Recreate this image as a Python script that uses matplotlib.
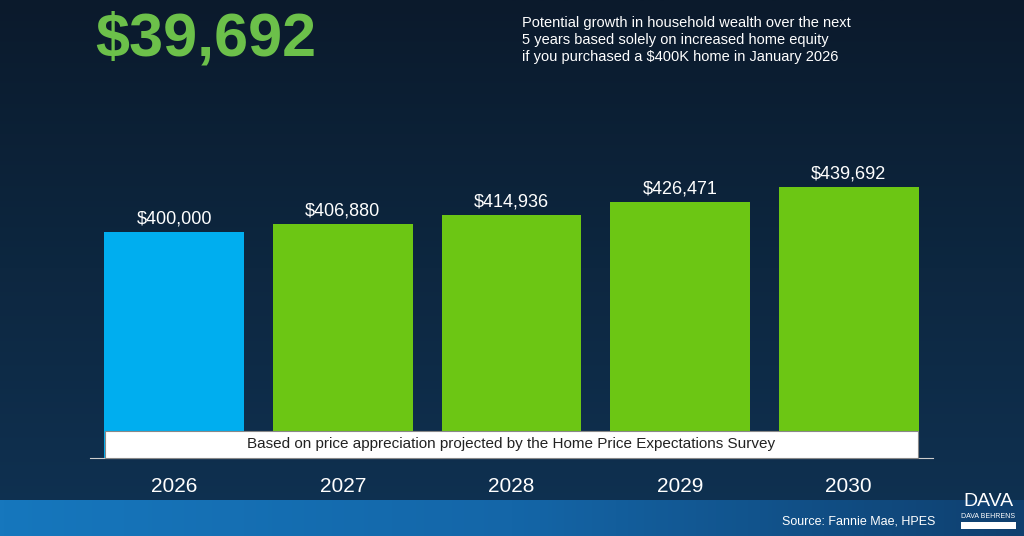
import matplotlib.pyplot as plt
import numpy as np

years = ['2026', '2027', '2028', '2029', '2030']
values = [400000, 406880, 414936, 426471, 439692]
labels = ['$400,000', '$406,880', '$414,936', '$426,471', '$439,692']
colors = ['#00aeef', '#6cc614', '#6cc614', '#6cc614', '#6cc614']

plt.rcParams['font.family'] = ['Liberation Sans', 'DejaVu Sans']

fig = plt.figure(figsize=(10.24, 5.36), dpi=100)

# background gradient
bg = fig.add_axes([0, 0, 1, 1])
grad = np.linspace(0, 1, 256).reshape(-1, 1)
from matplotlib.colors import LinearSegmentedColormap
cm = LinearSegmentedColormap.from_list('bg', ['#0b1a2c', '#0d2740', '#0f3253'])
bg.imshow(grad, aspect='auto', cmap=cm, extent=[0, 1, 0, 1], origin='upper')
# bottom blue strip
strip = np.linspace(0, 1, 256).reshape(1, -1)
cm2 = LinearSegmentedColormap.from_list('st', ['#1677bd', '#1466a8', '#0f3f6e'])
bg.imshow(strip, aspect='auto', cmap=cm2, extent=[0, 1, 0, 36 / 536])
bg.set_xlim(0, 1)
bg.set_ylim(0, 1)
bg.axis('off')

ax = fig.add_axes([90 / 1024, 78 / 536, 843 / 1024, 358 / 536])
ax.patch.set_alpha(0)
x = np.arange(len(years))
ax.bar(x, values, width=0.83, color=colors, zorder=2)
for xi, v, lab in zip(x, values, labels):
    ax.text(xi, v + 4000, lab, ha='center', va='bottom', color='white', fontsize=13)
ax.set_xlim(-0.5, 4.5)
ax.set_ylim(200700, 516400)
for s in ['top', 'right', 'left']:
    ax.spines[s].set_visible(False)
ax.spines['bottom'].set_color('#cccccc')
ax.set_yticks([])
ax.set_xticks(x)
ax.set_xticklabels(years, color='white', fontsize=15)
ax.tick_params(axis='x', length=0, pad=14)

# white note box
fig.patches.append(plt.Rectangle((105 / 1024, (536 - 458) / 536), 813 / 1024, 27 / 536,
                                 transform=fig.transFigure, facecolor='white',
                                 edgecolor='#888888', lw=0.8, zorder=5))
fig.text(511 / 1024, (536 - 444) / 536,
         'Based on price appreciation projected by the Home Price Expectations Survey',
         ha='center', va='center', fontsize=11, color='#222222', zorder=6)

fig.text(95 / 1024, (536 - 40) / 536, '$39,692', color='#6cc04a', fontsize=44,
         fontweight='bold', va='center')
fig.text(522 / 1024, (536 - 40) / 536,
         'Potential growth in household wealth over the next\n5 years based solely on increased home equity\nif you purchased a $400K home in January 2026',
         color='white', fontsize=10.5, va='center', linespacing=1.25)

fig.text(935 / 1024, (536 - 522) / 536, 'Source: Fannie Mae, HPES', color='white',
         fontsize=9, ha='right', va='center')
fig.text(988 / 1024, (536 - 502) / 536, 'DAVA', color='white', fontsize=14,
         ha='center', va='center')
fig.text(988 / 1024, (536 - 516) / 536, 'DAVA BEHRENS', color='white', fontsize=5,
         ha='center', va='center')
fig.patches.append(plt.Rectangle((961 / 1024, (536 - 529) / 536), 55 / 1024, 7 / 536,
                                 transform=fig.transFigure, facecolor='white', zorder=5))

fig.savefig('out.png', dpi=100)
